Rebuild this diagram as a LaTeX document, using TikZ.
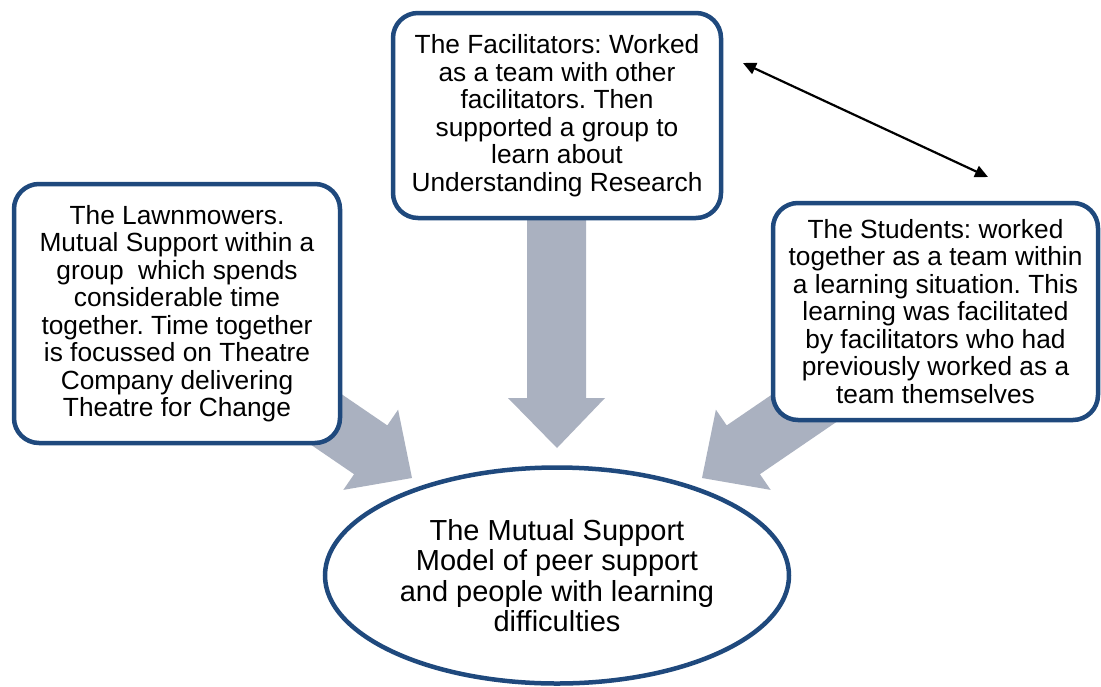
\documentclass[tikz,border=0pt]{standalone}
\usepackage{fontspec}
\setmainfont{Liberation Sans}
\usetikzlibrary{shapes.geometric,arrows.meta}
\definecolor{bordblue}{RGB}{31,73,125}
\definecolor{arrgrey}{RGB}{170,177,192}
\frenchspacing
\begin{document}
\begin{tikzpicture}[x=1pt,y=-1pt,
  box/.style={draw=bordblue, line width=4.5pt, rounded corners=25pt, fill=white,
    align=center, inner sep=0pt, font=\fontsize{26.3}{27.5}\selectfont},
  oval/.style={ellipse, draw=bordblue, line width=4.5pt, fill=white,
    align=center, inner sep=0pt, font=\fontsize{29}{30.3}\selectfont},
  fatarrow/.style={fill=arrgrey, draw=none},
  linkarrow/.style={line width=2.2pt, {Triangle[length=13pt,width=12pt]}-{Triangle[length=13pt,width=12pt]}}
]
\useasboundingbox (0,0) rectangle (1101,686);
\fill[white] (0,0) rectangle (1101,686);

% grey block arrows (behind the boxes)
\fill[fatarrow] (527,200) -- (586,200) -- (586,398) -- (605,398) -- (557,448)
  -- (508,398) -- (527,398) -- cycle;
\fill[fatarrow] (263.4,340.8) -- (387.3,425.4) -- (398.1,409.7) -- (412,478)
  -- (343.3,489.9) -- (354.1,474.2) -- (230.2,389.6) -- cycle;
\fill[fatarrow] (850.6,340.8) -- (726.7,425.4) -- (715.9,409.7) -- (702,478)
  -- (770.7,489.9) -- (759.9,474.2) -- (883.8,389.6) -- cycle;

% boxes
\node[box, minimum width=326pt, minimum height=259pt] (lawn) at (177,313.5)
  {The Lawnmowers.\\ Mutual Support within a\\ group\ \ which spends\\ considerable time\\
   together. Time together\\ is focussed on Theatre\\ Company delivering\\ Theatre for Change};
\node[box, minimum width=328pt, minimum height=205pt] (facil) at (557,115.5)
  {The Facilitators: Worked\\ as a team with other\\ facilitators. Then\\ supported a group to\\
   learn about\\ Understanding Research};
\node[box, minimum width=325pt, minimum height=217pt] (stud) at (935.5,311.5)
  {The Students: worked\\ together as a team within\\ a learning situation. This\\
   learning was facilitated\\ by facilitators who had\\ previously worked as a\\ team themselves};
\node[oval, minimum width=464pt, minimum height=216pt] (model) at (557,575.5)
  {The Mutual Support\\ Model of peer support\\ and people with learning\\ difficulties};

% double-headed link
\coordinate (la) at (743,63);
\coordinate (lb) at (988,177);
\draw[linkarrow] (la) -- (lb);
\end{tikzpicture}
\end{document}
